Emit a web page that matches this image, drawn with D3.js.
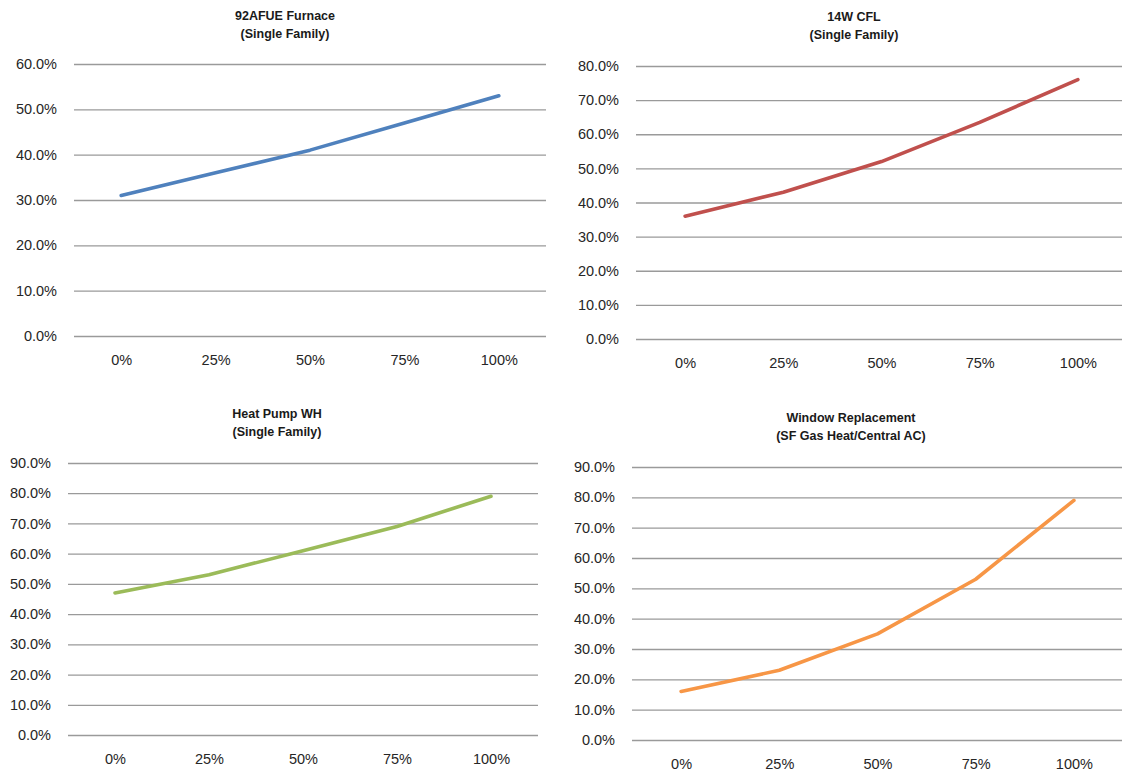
<!DOCTYPE html>
<html>
<head>
<meta charset="utf-8">
<script src="https://cdn.jsdelivr.net/npm/d3@7"></script>
<style>
  html, body { margin: 0; padding: 0; background: #fff; }
  svg { display: block; font-family: "Liberation Sans", Arial, sans-serif; }
  .grid line { stroke: #9a9a9a; stroke-width: 1.3; }
  .grid path { display: none; }
  .tick text { fill: #262626; font-size: 14.5px; }
  .title { fill: #1a1a1a; font-size: 12.5px; font-weight: bold; }
</style>
</head>
<body>
<svg id="chart" width="1122" height="772"></svg>
<script>
const categories = ["0%", "25%", "50%", "75%", "100%"];

const furnaceValues = [31, 36, 41, 47, 53];
const cflValues = [36, 43, 52, 63.5, 76];
const heatPumpValues = [47, 53, 61, 69, 79];
const windowValues = [16, 23, 35, 53, 79];

const ticksTo60 = [0, 10, 20, 30, 40, 50, 60];
const ticksTo80 = [0, 10, 20, 30, 40, 50, 60, 70, 80];
const ticksTo90 = [0, 10, 20, 30, 40, 50, 60, 70, 80, 90];

const panels = [
  { title: ["92AFUE Furnace", "(Single Family)"], values: furnaceValues, ticks: ticksTo60,
    color: "#4f81bd", x0: 74, x1: 546, y0: 64, y1: 336, cx: 285, ty: 16 },
  { title: ["14W CFL", "(Single Family)"], values: cflValues, ticks: ticksTo80,
    color: "#c0504d", x0: 636, x1: 1127, y0: 66, y1: 339, cx: 854, ty: 17 },
  { title: ["Heat Pump WH", "(Single Family)"], values: heatPumpValues, ticks: ticksTo90,
    color: "#9bbb59", x0: 68, x1: 538, y0: 463, y1: 735, cx: 277, ty: 414 },
  { title: ["Window Replacement", "(SF Gas Heat/Central AC)"], values: windowValues, ticks: ticksTo90,
    color: "#f79646", x0: 632, x1: 1123, y0: 467, y1: 740, cx: 851, ty: 418 }
];

const svg = d3.select("#chart");

panels.forEach((p) => {
  const g = svg.append("g");

  const x = d3.scalePoint().domain(categories).range([p.x0, p.x1]).padding(0.5);
  const y = d3.scaleLinear().domain([0, d3.max(p.ticks)]).range([p.y1, p.y0]);

  g.append("g")
    .attr("class", "grid")
    .attr("transform", `translate(${p.x0},0)`)
    .call(d3.axisLeft(y)
      .tickValues(p.ticks)
      .tickSize(-(p.x1 - p.x0))
      .tickPadding(17)
      .tickFormat((d) => d.toFixed(1) + "%"));

  const xAxis = g.append("g")
    .attr("transform", `translate(0,${p.y1})`)
    .call(d3.axisBottom(x).tickSize(0).tickPadding(19));
  xAxis.select(".domain").remove();

  const line = d3.line()
    .x((d, i) => x(categories[i]))
    .y((d) => y(d));

  g.append("path")
    .datum(p.values)
    .attr("fill", "none")
    .attr("stroke", p.color)
    .attr("stroke-width", 3.6)
    .attr("stroke-linejoin", "round")
    .attr("stroke-linecap", "round")
    .attr("d", line);

  g.append("text")
    .attr("class", "title")
    .attr("text-anchor", "middle")
    .attr("x", p.cx)
    .attr("y", p.ty)
    .selectAll("tspan")
    .data(p.title)
    .join("tspan")
    .attr("x", p.cx)
    .attr("dy", (d, i) => (i === 0 ? "0.35em" : "18px"))
    .text((d) => d);
});
</script>
</body>
</html>
